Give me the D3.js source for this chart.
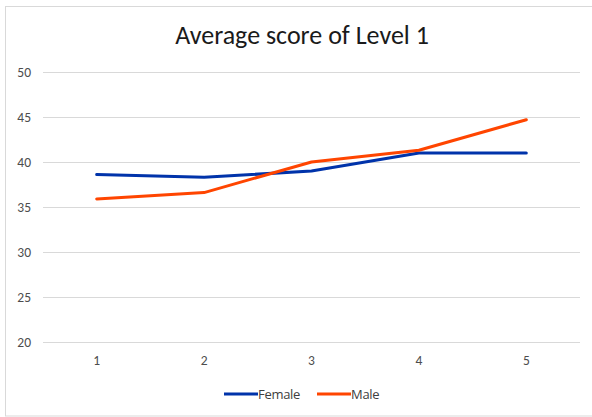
<!DOCTYPE html>
<html><head><meta charset="utf-8">
<script src="https://cdn.jsdelivr.net/npm/d3@7"></script>
<style>body{margin:0;background:#fff}svg{display:block}</style>
</head><body><svg id="c" width="592" height="417"></svg>
<script>
const title = "Average score of Level 1";
const categories = ["1","2","3","4","5"];
const female = [38.6, 38.3, 39.0, 41.0, 41.0];
const male = [35.9, 36.6, 40.0, 41.3, 44.7];
const yTicks = [20,25,30,35,40,45,50];
const seriesNames = ["Female","Male"];
const seriesColors = ["#0033AA","#FF4500"];

const svg = d3.select("#c");
const W = 592, H = 417;
svg.append("rect").attr("x",5.5).attr("y",6.5).attr("width",W).attr("height",409.5)
  .attr("fill","#fff").attr("stroke","#d9d9d9").attr("stroke-width",1);

const x = d3.scaleBand().domain(categories).range([43,580]);
const y = d3.scaleLinear().domain([20,50]).range([342,72]);

svg.append("g").selectAll("line").data(yTicks).join("line")
  .attr("x1",43).attr("x2",580)
  .attr("y1",d=>Math.round(y(d))+0.5).attr("y2",d=>Math.round(y(d))+0.5)
  .attr("stroke","#d9d9d9").attr("stroke-width",1);

const font = "Calibri, Carlito, 'Open Sans', sans-serif";
svg.append("g").selectAll("text").data(yTicks).join("text")
  .attr("x",31).attr("y",d=>y(d)+5).attr("text-anchor","end")
  .attr("font-family",font).attr("font-size",13.5).attr("fill","#4d4d4d").text(d=>d);

svg.append("g").selectAll("text").data(categories).join("text")
  .attr("x",d=>x(d)+x.bandwidth()/2).attr("y",365).attr("text-anchor","middle")
  .attr("font-family",font).attr("font-size",13.5).attr("fill","#4d4d4d").text(d=>d);

svg.append("text").attr("x",302).attr("y",44).attr("text-anchor","middle")
  .attr("font-family",font).attr("font-size",26).attr("fill","#1a1a1a").text(title);

const line = d3.line().x((d,i)=>x(categories[i])+x.bandwidth()/2).y(d=>y(d));
[female, male].forEach((s,k)=>{
  svg.append("path").datum(s).attr("d",line).attr("fill","none")
    .attr("stroke",seriesColors[k]).attr("stroke-width",3)
    .attr("stroke-linejoin","round").attr("stroke-linecap","round");
});

const lg = svg.append("g");
const legendPos = [224, 317];
seriesNames.forEach((n,k)=>{
  lg.append("line").attr("x1",legendPos[k]).attr("x2",legendPos[k]+34)
    .attr("y1",394).attr("y2",394).attr("stroke",seriesColors[k]).attr("stroke-width",3);
  lg.append("text").attr("x",legendPos[k]+34).attr("y",398.5)
    .attr("font-family","'Segoe UI', 'Open Sans', sans-serif").attr("font-size",13)
    .attr("fill","#404040").attr("letter-spacing",-0.3).text(n);
});
</script></body></html>
